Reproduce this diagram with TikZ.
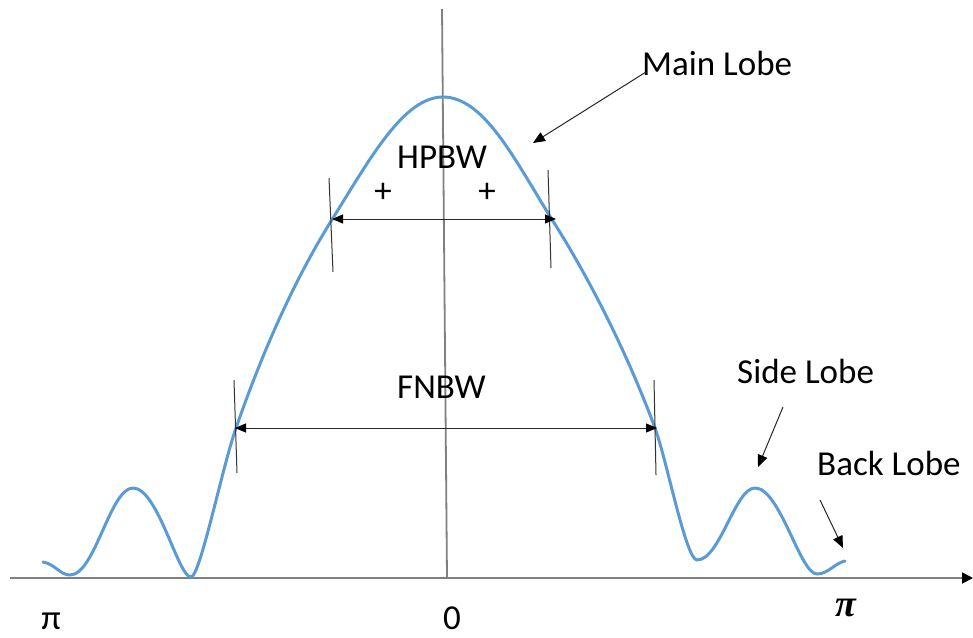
\documentclass[tikz,border=0pt]{standalone}
\usepackage{fontspec}
\setmainfont{Carlito}
\newfontfamily\pifont{Liberation Serif}
\usetikzlibrary{arrows.meta}
\definecolor{lobeblue}{RGB}{91,155,213}
\definecolor{axisgray}{RGB}{128,128,128}
\tikzset{
  lbl/.style={inner sep=0pt, font=\fontsize{35}{40}\selectfont},
  axisline/.style={draw=axisgray, line width=1.8pt},
  tickline/.style={draw=black!80, line width=1pt},
  pointer/.style={draw=black!85, line width=1pt, -{Triangle[length=12pt,width=10pt,color=black]}},
  dimarrow/.style={draw=black!85, line width=1pt, {Triangle[length=11pt,width=9pt,color=black]}-{Triangle[length=11pt,width=9pt,color=black]}},
  lobe/.style={draw=lobeblue, line width=3pt, line cap=round, line join=round}
}
\begin{document}
\begin{tikzpicture}[x=1pt,y=-1pt]
\useasboundingbox (0,0) rectangle (973,637);
% axes
\coordinate (xl) at (10,578);
\coordinate (xr) at (973,578);
\coordinate (yt) at (442,9);
\coordinate (yb) at (447,578);
\draw[axisline] (yt) -- (yb);
\draw[axisline, -{Triangle[length=11pt,width=11pt,color=black]}] (xl) -- (xr);
% pattern
\draw[lobe] (43,562) .. controls (55,564) and (60,575) .. (70,575)
  .. controls (95,575) and (110,488) .. (133,488)
  .. controls (158,488) and (178,577) .. (191,577)
  .. controls (200,577) and (222,468) .. (236,428)
  .. controls (268,336) and (301,269) .. (333,218)
  .. controls (371,157) and (404,97) .. (443,97)
  .. controls (484,97) and (515,160) .. (551,218)
  .. controls (585,271) and (625,347) .. (655,428)
  .. controls (667,461) and (686,560) .. (697,560)
  .. controls (720,560) and (735,488) .. (755,488)
  .. controls (780,488) and (800,574) .. (817,574)
  .. controls (828,574) and (835,563) .. (845,561);
% HPBW ticks and arrow
\coordinate (h1t) at (329,178);
\coordinate (h1b) at (333,272);
\coordinate (h2t) at (548,170);
\coordinate (h2b) at (551,268);
\draw[tickline] (h1t) -- (h1b);
\draw[tickline] (h2t) -- (h2b);
\coordinate (ha) at (332,219);
\coordinate (hb) at (556,219);
\draw[dimarrow] (ha) -- (hb);
% FNBW ticks and arrow
\coordinate (f1t) at (234,380);
\coordinate (f1b) at (237,473);
\coordinate (f2t) at (654,380);
\coordinate (f2b) at (656,475);
\draw[tickline] (f1t) -- (f1b);
\draw[tickline] (f2t) -- (f2b);
\coordinate (fa) at (235,428);
\coordinate (fb) at (657,428);
\draw[dimarrow] (fa) -- (fb);
% labels
\node[lbl, anchor=base west] (hpbw) at (397,168) {HPBW};
\node[lbl] (plusl) at (383,193) {+};
\node[lbl] (plusr) at (487,193) {+};
\node[lbl, anchor=base west] (fnbw) at (397,398) {FNBW};
\node[lbl, anchor=base west] (main) at (642,75) {Main Lobe};
\node[lbl, anchor=base west] (side) at (737,383) {Side Lobe};
\node[lbl, anchor=base west] (back) at (817,475) {Back Lobe};
\node[lbl, anchor=base] (pil) at (51,629) {π};
\node[lbl, anchor=base] (zero) at (452,629) {0};
\node[inner sep=0pt, anchor=base, font=\fontsize{38}{42}\selectfont\pifont\bfseries\itshape] (pir) at (846,616) {π};
% pointers
\coordinate (mainS) at (646,72);
\coordinate (mainE) at (533,143);
\draw[pointer] (mainS) -- (mainE);
\coordinate (sideS) at (783,407);
\coordinate (sideE) at (758,467);
\draw[pointer] (sideS) -- (sideE);
\coordinate (backS) at (820,500);
\coordinate (backE) at (843,548);
\draw[pointer] (backS) -- (backE);
\end{tikzpicture}
\end{document}
